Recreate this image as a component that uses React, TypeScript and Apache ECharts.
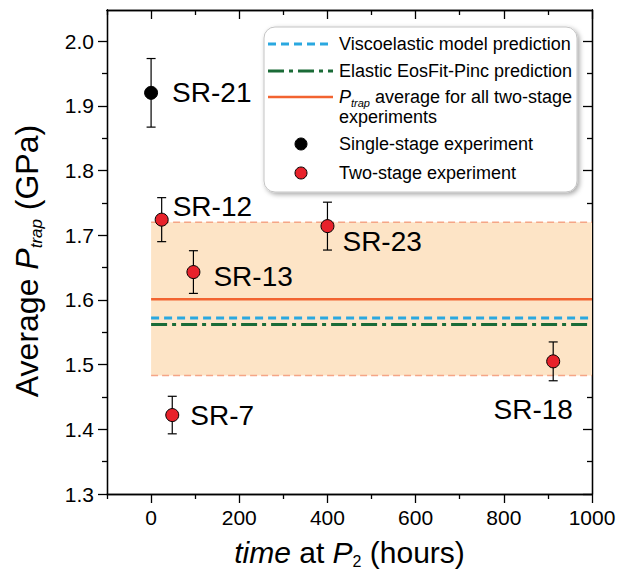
import React, { useEffect, useRef } from "react";
import * as echarts from "echarts";

// ---- data ----
const singleNames = ["SR-21"];
const singleTime = [0];
const singleP = [1.92];
const singleErr = [0.053];

const twoNames = ["SR-12", "SR-13", "SR-7", "SR-23", "SR-18"];
const twoTime = [24, 96, 48, 400, 912];
const twoP = [1.724, 1.643, 1.422, 1.714, 1.505];
const twoErr = [0.034, 0.033, 0.029, 0.037, 0.03];

const lineStart = 0;
const lineEnd = 1000;
const avgP = 1.601;
const bandHigh = 1.72;
const bandLow = 1.483;
const viscoP = 1.572;
const elasticP = 1.562;

const xMajor = [0, 200, 400, 600, 800, 1000];
const xMinor = [-100, 100, 300, 500, 700, 900];
const yMajor = [1.3, 1.4, 1.5, 1.6, 1.7, 1.8, 1.9, 2.0];
const yMinor = [1.35, 1.45, 1.55, 1.65, 1.75, 1.85, 1.95];

const legendTexts = [
  "Viscoelastic model prediction",
  "Elastic EosFit-Pinc prediction",
  "{i|P}{sub|trap} average for all two-stage",
  "experiments",
  "Single-stage experiment",
  "Two-stage experiment",
];

// ---- label styling (positions relative to each point) ----
const singleLabelStyle = [{ position: "right", distance: 14, offset: [0, 0] }];
const twoLabelStyle = [
  { position: "right", distance: 4, offset: [0, -13] },
  { position: "right", distance: 13, offset: [0, 4] },
  { position: "right", distance: 11, offset: [0, 0] },
  { position: "right", distance: 8, offset: [0, 15] },
  { position: "inside", distance: 0, offset: [-20, 48] },
];

const FONT = "Liberation Sans, Arial, Helvetica, sans-serif";
const BLACK = "#000";

export default function App() {
  const ref = useRef<HTMLDivElement>(null);

  useEffect(() => {
    if (!ref.current) return;
    const chart = echarts.init(ref.current, null, { renderer: "svg" });

    const gridRect = { left: 107, right: 28, top: 10, bottom: 88 };
    const axisLine = { show: true, onZero: false, lineStyle: { color: BLACK, width: 1.3 } };
    const tickLine = { color: BLACK, width: 1.3 };

    const xCommon = {
      type: "value",
      min: -100,
      max: 1000,
      axisLine,
      splitLine: { show: false },
    };
    const yCommon = {
      type: "value",
      min: 1.3,
      max: 2.048,
      axisLine,
      splitLine: { show: false },
    };

    const errRender = (params: any, api: any) => {
      const x = api.value(0);
      const y = api.value(1);
      const e = api.value(2);
      const top = api.coord([x, y + e]);
      const bot = api.coord([x, y - e]);
      const hw = 4.5;
      const st = { stroke: BLACK, lineWidth: 1.2 };
      return {
        type: "group",
        children: [
          { type: "line", shape: { x1: top[0], y1: top[1], x2: bot[0], y2: bot[1] }, style: st },
          { type: "line", shape: { x1: top[0] - hw, y1: top[1], x2: top[0] + hw, y2: top[1] }, style: st },
          { type: "line", shape: { x1: bot[0] - hw, y1: bot[1], x2: bot[0] + hw, y2: bot[1] }, style: st },
        ],
      };
    };

    const hLine = (v: number, lineStyle: any, z: number, extra: any = {}) => ({
      type: "line",
      xAxisIndex: 0,
      yAxisIndex: 0,
      data: [
        [lineStart, v],
        [lineEnd, v],
      ],
      symbol: "none",
      silent: true,
      lineStyle,
      z,
      ...extra,
    });

    const labelText = {
      fontSize: 28,
      color: BLACK,
      fontFamily: FONT,
    };

    const legendX0 = 268;
    const legendX1 = 333;
    const textX = 339;
    const rowsY = [44, 71, 97, 117, 144, 173];

    const xTitleRich = {
      i: { fontSize: 30, fontStyle: "italic", fontFamily: FONT, color: BLACK, lineHeight: 34 },
      sub: { fontSize: 16, fontFamily: FONT, color: BLACK, lineHeight: 16, verticalAlign: "bottom" },
    };
    const yTitleRich = {
      i: { fontSize: 32, fontStyle: "italic", fontFamily: FONT, color: BLACK, lineHeight: 36 },
      subi: { fontSize: 17, fontStyle: "italic", fontFamily: FONT, color: BLACK, lineHeight: 17, verticalAlign: "bottom" },
    };

    const option: any = {
      animation: false,
      backgroundColor: "#fff",
      textStyle: { fontFamily: FONT },
      grid: [{ ...gridRect }, { ...gridRect }],
      xAxis: [
        {
          ...xCommon,
          gridIndex: 0,
          position: "bottom",
          axisTick: { show: true, customValues: xMinor, length: 5, inside: false, lineStyle: tickLine },
          axisLabel: { show: false },
        },
        {
          ...xCommon,
          gridIndex: 0,
          position: "top",
          axisTick: { show: true, customValues: xMinor, length: 5, inside: true, lineStyle: tickLine },
          axisLabel: { show: false },
        },
        {
          ...xCommon,
          gridIndex: 1,
          position: "bottom",
          axisTick: { show: true, customValues: xMajor, length: 9, inside: false, lineStyle: tickLine },
          axisLabel: {
            show: true,
            customValues: xMajor,
            formatter: (v: number) => String(v),
            fontSize: 21,
            color: BLACK,
            margin: 13,
            fontFamily: FONT,
          },
          name: "{i|time} at {i|P}{sub|2} (hours)",
          nameLocation: "middle",
          nameGap: 41,
          nameTextStyle: {
            fontSize: 30,
            color: BLACK,
            fontFamily: FONT,
            rich: xTitleRich,
          },
        },
        {
          ...xCommon,
          gridIndex: 1,
          position: "top",
          axisTick: { show: true, customValues: xMajor, length: 9, inside: true, lineStyle: tickLine },
          axisLabel: { show: false },
        },
      ],
      yAxis: [
        {
          ...yCommon,
          gridIndex: 0,
          position: "left",
          axisTick: { show: true, customValues: yMinor, length: 5, inside: false, lineStyle: tickLine },
          axisLabel: { show: false },
        },
        {
          ...yCommon,
          gridIndex: 0,
          position: "right",
          axisTick: { show: true, customValues: yMinor, length: 5, inside: true, lineStyle: tickLine },
          axisLabel: { show: false },
        },
        {
          ...yCommon,
          gridIndex: 1,
          position: "left",
          axisTick: { show: true, customValues: yMajor, length: 9, inside: false, lineStyle: tickLine },
          axisLabel: {
            show: true,
            customValues: yMajor,
            formatter: (v: number) => v.toFixed(1),
            fontSize: 21,
            color: BLACK,
            margin: 13,
            fontFamily: FONT,
          },
          name: "Average {i|P}{subi|trap} (GPa)",
          nameLocation: "middle",
          nameGap: 62,
          nameTextStyle: {
            fontSize: 32,
            color: BLACK,
            fontFamily: FONT,
            padding: [0, 18, 0, 0],
            rich: yTitleRich,
          },
        },
        {
          ...yCommon,
          gridIndex: 1,
          position: "right",
          axisTick: { show: true, customValues: yMajor, length: 9, inside: true, lineStyle: tickLine },
          axisLabel: { show: false },
        },
      ],
      series: [
        hLine(bandHigh, { color: "#f5a586", width: 1.5, type: [7, 4] }, 2, {
          markArea: {
            silent: true,
            itemStyle: { color: "#fde4c6" },
            data: [[{ coord: [lineStart, bandHigh] }, { coord: [lineEnd, bandLow] }]],
          },
        }),
        hLine(bandLow, { color: "#f5a586", width: 1.5, type: [7, 4] }, 2),
        hLine(avgP, { color: "#f26330", width: 2.6, type: "solid" }, 3),
        hLine(viscoP, { color: "#2aa8e0", width: 3, type: [8, 5] }, 3),
        hLine(elasticP, { color: "#1a6b37", width: 3, type: [16, 5, 4, 5] }, 3),
        {
          type: "custom",
          xAxisIndex: 0,
          yAxisIndex: 0,
          renderItem: errRender,
          data: [
            ...singleTime.map((t, i) => [t, singleP[i], singleErr[i]]),
            ...twoTime.map((t, i) => [t, twoP[i], twoErr[i]]),
          ],
          z: 4,
          silent: true,
        },
        {
          type: "scatter",
          xAxisIndex: 0,
          yAxisIndex: 0,
          symbolSize: 13,
          itemStyle: { color: "#000", borderColor: "#000", borderWidth: 1, opacity: 1 },
          data: singleTime.map((t, i) => ({
            name: singleNames[i],
            value: [t, singleP[i]],
            label: { show: true, formatter: "{b}", ...labelText, ...singleLabelStyle[i] },
          })),
          z: 5,
        },
        {
          type: "scatter",
          xAxisIndex: 0,
          yAxisIndex: 0,
          symbolSize: 13,
          itemStyle: { color: "#e8222b", borderColor: "#000", borderWidth: 1, opacity: 1 },
          data: twoTime.map((t, i) => ({
            name: twoNames[i],
            value: [t, twoP[i]],
            label: { show: true, formatter: "{b}", ...labelText, ...twoLabelStyle[i] },
          })),
          z: 5,
        },
      ],
      graphic: [
        {
          type: "rect",
          z: 100,
          shape: { x: 264, y: 27, width: 313, height: 165, r: 11 },
          style: {
            fill: "#fff",
            stroke: "#c4c4c4",
            lineWidth: 1,
            shadowBlur: 5,
            shadowOffsetX: 2,
            shadowOffsetY: 2,
            shadowColor: "rgba(0,0,0,0.35)",
          },
        },
        {
          type: "line",
          z: 101,
          shape: { x1: legendX0, y1: rowsY[0], x2: legendX1, y2: rowsY[0] },
          style: { stroke: "#2aa8e0", lineWidth: 3, lineDash: [8, 5] },
        },
        {
          type: "line",
          z: 101,
          shape: { x1: legendX0, y1: rowsY[1], x2: legendX1, y2: rowsY[1] },
          style: { stroke: "#1a6b37", lineWidth: 3, lineDash: [16, 5, 4, 5] },
        },
        {
          type: "line",
          z: 101,
          shape: { x1: legendX0, y1: rowsY[2], x2: legendX1, y2: rowsY[2] },
          style: { stroke: "#f26330", lineWidth: 2.6 },
        },
        {
          type: "circle",
          z: 101,
          shape: { cx: 301, cy: rowsY[4], r: 6 },
          style: { fill: "#000", stroke: "#000", lineWidth: 1 },
        },
        {
          type: "circle",
          z: 101,
          shape: { cx: 301, cy: rowsY[5], r: 6 },
          style: { fill: "#e8222b", stroke: "#000", lineWidth: 1 },
        },
        ...legendTexts.map((t, i) => ({
          type: "text",
          z: 102,
          x: textX,
          y: rowsY[i],
          style: {
            text: t,
            fontSize: 18,
            fontFamily: FONT,
            fill: BLACK,
            verticalAlign: "middle",
            align: "left",
            rich: {
              i: { fontSize: 18, fontStyle: "italic", fontFamily: FONT, fill: BLACK, lineHeight: 22 },
              sub: { fontSize: 11, fontStyle: "italic", fontFamily: FONT, fill: BLACK, lineHeight: 11, verticalAlign: "bottom" },
            },
          },
        })),
      ],
    };

    chart.setOption(option);
    return () => chart.dispose();
  }, []);

  return (
    <div
      ref={ref}
      style={{ position: "absolute", left: 0, top: 0, width: 620, height: 582, background: "#fff" }}
    />
  );
}
